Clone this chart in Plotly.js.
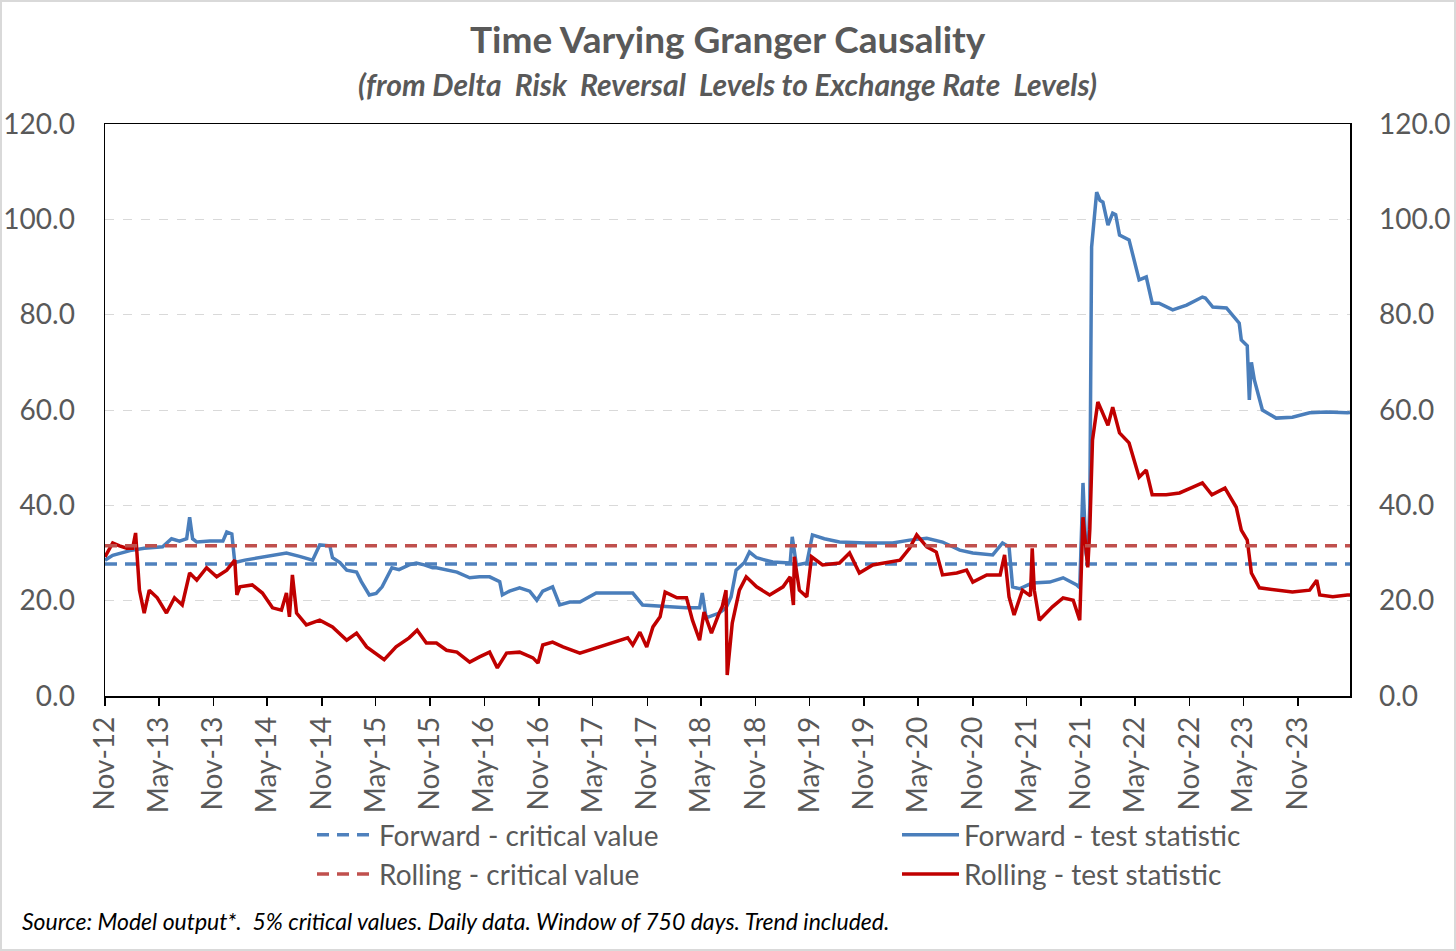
<!DOCTYPE html>
<html>
<head>
<meta charset="utf-8">
<script src="https://cdn.plot.ly/plotly-3.0.1.min.js"></script>
<style>
html,body{margin:0;padding:0;background:#fff;}
#wrap{position:relative;width:1456px;height:951px;}
#chart{width:1456px;height:951px;}
#frame{position:absolute;left:0;top:0;width:1452px;height:947px;border:2px solid #d9d9d9;pointer-events:none;}
</style>
</head>
<body>
<div id="wrap"><div id="chart"></div><div id="frame"></div></div>
<script>
// ---- data ----
const forwardDates = ["2012-11-01","2012-11-27","2013-01-24","2013-03-13","2013-05-14","2013-06-13","2013-07-10","2013-08-03","2013-08-13","2013-08-23","2013-09-06","2013-10-20","2013-12-03","2013-12-16","2014-01-02","2014-01-12","2014-02-15","2014-04-05","2014-05-25","2014-07-05","2014-08-18","2014-10-01","2014-10-25","2014-11-28","2014-12-07","2015-01-01","2015-01-24","2015-02-26","2015-03-14","2015-04-10","2015-05-03","2015-05-23","2015-06-25","2015-07-19","2015-08-22","2015-09-15","2015-10-12","2015-11-09","2015-11-22","2015-12-26","2016-01-30","2016-03-13","2016-04-15","2016-05-19","2016-06-22","2016-07-01","2016-07-25","2016-08-28","2016-10-01","2016-10-25","2016-11-14","2016-12-17","2017-01-10","2017-02-13","2017-03-19","2017-05-13","2017-07-13","2017-09-13","2017-10-16","2017-11-27","2018-01-16","2018-03-13","2018-04-26","2018-05-05","2018-05-18","2018-07-01","2018-07-24","2018-08-10","2018-08-27","2018-09-24","2018-10-11","2018-11-04","2018-12-01","2018-12-28","2019-02-25","2019-03-04","2019-03-18","2019-04-22","2019-05-11","2019-06-20","2019-08-10","2019-11-09","2020-02-05","2020-04-02","2020-05-30","2020-07-22","2020-09-18","2020-11-01","2021-01-07","2021-02-09","2021-03-03","2021-03-15","2021-04-07","2021-05-20","2021-07-18","2021-09-01","2021-10-17","2021-10-27","2021-11-07","2021-11-17","2021-11-23","2021-11-30","2021-12-06","2021-12-23","2022-01-03","2022-01-13","2022-01-30","2022-02-15","2022-02-25","2022-03-10","2022-04-11","2022-04-28","2022-05-15","2022-06-08","2022-06-28","2022-07-21","2022-09-05","2022-10-22","2022-12-14","2022-12-24","2023-01-18","2023-03-05","2023-04-17","2023-04-24","2023-05-14","2023-05-21","2023-05-28","2023-06-07","2023-06-24","2023-07-04","2023-08-19","2023-10-13","2023-12-10","2024-02-05","2024-04-15","2024-04-24"];
const forwardStat = [28.5,29.5,30.5,31,31.3,33,32.5,33,37.5,33,32.3,32.5,32.5,34.4,34,28,28.5,29,29.5,30,29.3,28.5,31.7,31.5,29,28,26.4,26,24,21.2,21.5,22.9,26.9,26.5,27.5,27.9,27.5,26.9,26.9,26.5,26,24.8,25,25,24,21.2,22,22.7,22,20.1,22,22.9,19.1,19.7,19.7,21.6,21.6,21.6,19.1,19,18.7,18.5,18.5,21.6,16.4,17.4,18.5,20.8,26.4,28,30.2,29,28.5,28.1,27.9,33.4,27.5,27.9,33.8,33,32.3,32.1,32.1,32.7,33.1,32.3,30.6,30,29.6,32.1,31.3,22.9,22.5,23.7,23.9,24.8,23.3,22.7,44.7,30,28,40,94.2,105.7,104,103.6,98.8,101.3,101,96.7,95.7,91.5,87.3,87.9,82.4,82.4,81,82,83.7,83.5,81.6,81.4,78.2,74.7,73.5,62.1,70,66.3,62.1,60,58.3,58.5,59.4,59.6,59.4,59.5];

const rollingDates = ["2012-11-01","2012-11-27","2012-12-20","2013-01-13","2013-02-02","2013-02-12","2013-02-25","2013-03-13","2013-03-30","2013-04-26","2013-05-27","2013-06-23","2013-07-19","2013-08-13","2013-09-06","2013-10-09","2013-11-12","2013-12-16","2014-01-12","2014-01-19","2014-01-29","2014-03-12","2014-04-15","2014-05-19","2014-06-18","2014-07-05","2014-07-15","2014-07-25","2014-08-08","2014-09-10","2014-10-25","2014-12-07","2015-01-24","2015-02-26","2015-04-01","2015-05-30","2015-07-09","2015-08-22","2015-09-18","2015-10-19","2015-11-22","2015-12-26","2016-01-30","2016-03-13","2016-04-15","2016-05-19","2016-06-14","2016-07-15","2016-08-28","2016-10-12","2016-10-29","2016-11-14","2016-12-17","2017-01-21","2017-03-19","2017-05-13","2017-07-07","2017-08-27","2017-09-13","2017-10-07","2017-10-30","2017-11-20","2017-12-14","2017-12-31","2018-02-09","2018-03-13","2018-04-02","2018-04-26","2018-05-11","2018-06-05","2018-07-01","2018-07-11","2018-07-24","2018-07-28","2018-08-14","2018-09-07","2018-09-30","2018-11-04","2018-12-18","2019-02-01","2019-02-25","2019-03-08","2019-03-11","2019-03-28","2019-04-22","2019-05-08","2019-06-14","2019-08-10","2019-09-13","2019-10-16","2019-11-30","2020-01-16","2020-03-01","2020-04-02","2020-04-26","2020-05-30","2020-07-01","2020-07-22","2020-09-08","2020-10-11","2020-11-01","2020-12-18","2021-02-01","2021-02-16","2021-03-03","2021-03-20","2021-04-17","2021-05-14","2021-05-20","2021-05-27","2021-06-13","2021-07-27","2021-09-01","2021-10-05","2021-10-27","2021-11-07","2021-11-17","2021-11-23","2021-11-30","2021-12-09","2021-12-27","2022-01-13","2022-01-30","2022-02-15","2022-03-10","2022-04-11","2022-05-15","2022-06-08","2022-06-28","2022-08-14","2022-09-28","2022-11-12","2022-12-14","2023-01-15","2023-02-28","2023-04-07","2023-04-24","2023-05-14","2023-05-28","2023-06-24","2023-08-19","2023-10-13","2023-12-10","2024-01-03","2024-01-13","2024-02-26","2024-04-15","2024-04-24"];
const rollingStat = [29.2,32.1,31.5,31,31,34.2,22.2,17.4,22.2,20.6,17.4,20.6,19.1,25.8,24.3,26.9,25,26.4,28.5,21.2,22.9,23.3,21.6,18.5,18,21.6,16.6,25.4,17.4,14.9,15.9,14.5,11.7,13.2,10.3,7.6,10.3,12.2,13.8,11.1,11.1,9.6,9.2,7.1,8.2,9.2,5.9,9,9.2,8,6.9,10.7,11.3,10.3,9,10.1,11.1,12.2,10.7,13.4,10.3,14.5,16.6,21.8,20.6,20.6,15.9,11.7,17.6,13.2,17.4,18.7,22.2,4.4,15.3,22.2,25,22.9,21.2,22.9,25,19.1,29.2,22.2,20.8,29.2,27.5,27.9,30,25.8,27.5,28.1,28.5,31,33.8,31.3,30.2,25.4,25.8,26.4,23.9,25.4,25.4,29.6,20.8,17,22.2,21,31,22.2,15.9,18.7,20.6,20.1,15.9,37.5,30,27,35,53.7,61.7,59.4,56.8,60.6,55.2,53.1,45.9,47.4,42.2,42.2,42.6,43.8,44.7,42.2,43.6,39.6,34.8,32.7,25.8,22.7,22.2,21.8,22.2,24.3,21.2,20.8,21.2,21.2];

const critDates = ["2012-11-01","2024-04-24"];
const forwardCritical = [27.7, 27.7];
const rollingCritical = [31.5, 31.5];

const seriesNames = ["Forward - critical value","Forward - test statistic","Rolling - critical value","Rolling - test statistic"];
const yTickVals = [0,20,40,60,80,100,120];
const yTickText = ["0.0","20.0","40.0","60.0","80.0","100.0","120.0"];

const FONT = "Lato, 'Open Sans', sans-serif";
const GREY = "#595959";

const traces = [
  {x: critDates, y: forwardCritical, name: seriesNames[0], legend: "legend", mode: "lines", line: {color: "#4f81bd", width: 3.5, dash: "12px,8px"}},
  {x: forwardDates, y: forwardStat, name: seriesNames[1], legend: "legend2", mode: "lines", line: {color: "#4a7ebb", width: 3.5}},
  {x: critDates, y: rollingCritical, name: seriesNames[2], legend: "legend", mode: "lines", yaxis: "y2", line: {color: "#c0504d", width: 3.5, dash: "12px,8px"}},
  {x: rollingDates, y: rollingStat, name: seriesNames[3], legend: "legend2", mode: "lines", line: {color: "#c00000", width: 3.5}}
];

const legendCommon = {
  orientation: "v", xref: "container", yref: "container", xanchor: "left", yanchor: "top",
  font: {size: 28, color: GREY, family: FONT}, itemwidth: 57, bgcolor: "rgba(0,0,0,0)", tracegroupgap: 0
};

const layout = {
  width: 1456, height: 951,
  paper_bgcolor: "#fff", plot_bgcolor: "#fff",
  margin: {l: 105, r: 106, t: 124, b: 255, autoexpand: false},
  font: {family: FONT, color: GREY},
  showlegend: true,
  title: {text: ""},
  xaxis: {
    type: "date",
    range: ["2012-11-01", "2024-04-24"],
    tick0: "2012-11-01", dtick: "M6", tickformat: "%b-%y",
    tickangle: -90,
    tickfont: {size: 28, color: GREY, family: FONT},
    ticks: "outside", ticklen: 8, tickcolor: "#000", tickwidth: 1.5,
    showline: true, linecolor: "#000", linewidth: 1.5, mirror: true,
    showgrid: false, zeroline: false, automargin: false
  },
  yaxis: {
    range: [0, 120], tickvals: yTickVals, ticktext: yTickText,
    tickfont: {size: 28, color: GREY, family: FONT},
    ticks: "", ticklabelstandoff: 23,
    showline: true, linecolor: "#000", linewidth: 1.5, mirror: true,
    showgrid: true, gridcolor: "#d9d9d9", griddash: "dash", gridwidth: 1,
    zeroline: false, automargin: false
  },
  yaxis2: {
    range: [0, 120], tickvals: yTickVals, ticktext: yTickText,
    overlaying: "y", side: "right",
    tickfont: {size: 28, color: GREY, family: FONT},
    ticks: "", ticklabelstandoff: 28,
    showgrid: false, zeroline: false, showline: false, automargin: false
  },
  legend: Object.assign({}, legendCommon, {x: 312/1456, y: 1 - 810/951}),
  legend2: Object.assign({}, legendCommon, {x: 897/1456, y: 1 - 810/951}),
  annotations: [
    {text: "<b>Time Varying Granger Causality</b>", xref: "paper", yref: "paper", x: 0.5, y: 1, yshift: 86, xanchor: "center", yanchor: "middle", showarrow: false, font: {size: 37, color: GREY, family: FONT}},
    {text: "<b><i>(from Delta  Risk  Reversal  Levels to Exchange Rate  Levels)</i></b>", xref: "paper", yref: "paper", x: 0.5, y: 1, yshift: 40, xanchor: "center", yanchor: "middle", showarrow: false, font: {size: 30, color: GREY, family: FONT}},
    {text: "<i>Source: Model output*.  5% critical values. Daily data. Window of 750 days. Trend included.</i>", xref: "paper", yref: "paper", x: -0.068, y: 0, yshift: -225, xanchor: "left", yanchor: "middle", showarrow: false, font: {size: 23, color: "#000", family: FONT}}
  ]
};

Plotly.newPlot("chart", traces, layout, {staticPlot: true, displayModeBar: false});
</script>
</body>
</html>
